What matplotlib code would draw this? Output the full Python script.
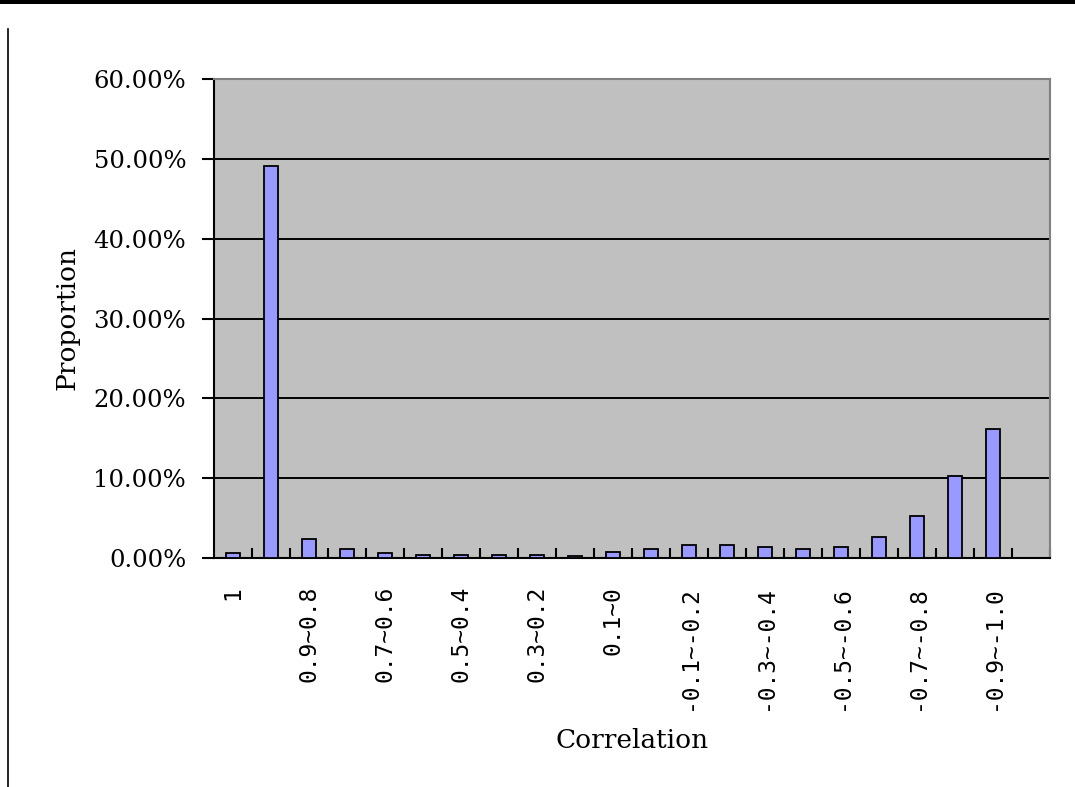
import matplotlib
matplotlib.use("Agg")
import matplotlib.pyplot as plt
from matplotlib.lines import Line2D
from matplotlib.patches import Rectangle
from matplotlib.ticker import FixedLocator, PercentFormatter

categories = ["1", "1~0.9", "0.9~0.8", "0.8~0.7", "0.7~0.6", "0.6~0.5", "0.5~0.4",
              "0.4~0.3", "0.3~0.2", "0.2~0.1", "0.1~0", "0~-0.1", "-0.1~-0.2",
              "-0.2~-0.3", "-0.3~-0.4", "-0.4~-0.5", "-0.5~-0.6", "-0.6~-0.7",
              "-0.7~-0.8", "-0.8~-0.9", "-0.9~-1.0"]
proportion = [0.63, 49.1, 2.4, 1.13, 0.66, 0.42, 0.42, 0.42, 0.42, 0.2, 0.7,
              1.1, 1.65, 1.65, 1.35, 1.1, 1.35, 2.6, 5.3, 10.3, 16.1]
y_ticks = [0, 10, 20, 30, 40, 50, 60]

W, H = 1075, 787
fig = plt.figure(figsize=(W / 100, H / 100), dpi=100)
fig.patch.set_facecolor("white")

# decorative frame lines of the original page
fig.add_artist(Rectangle((0, 1 - 4 / H), 1, 4 / H, transform=fig.transFigure,
                         facecolor="black", edgecolor="none"))
fig.add_artist(Line2D([7.5 / W, 7.5 / W], [0, 1 - 29 / H], transform=fig.transFigure,
                      color="black", linewidth=1.2))

left, right, top, bottom = 214, 1050, 79, 558
ax = fig.add_axes([left / W, 1 - bottom / H, (right - left) / W, (bottom - top) / H])
ax.set_facecolor("#C0C0C0")

x = list(range(len(categories)))
ax.bar(x, proportion, width=0.37, color="#9999FF", edgecolor="black", linewidth=1.3, zorder=3)

ax.set_xlim(-0.5, len(categories) + 0.5)
ax.set_ylim(0, 60)
ax.set_yticks(y_ticks)
ax.yaxis.set_major_formatter(PercentFormatter(decimals=2))
ax.grid(axis="y", color="black", linewidth=1.4, zorder=1)
ax.set_axisbelow(True)

major = list(range(0, len(categories), 2))
ax.set_xticks(major)
ax.set_xticklabels([categories[i] for i in major], rotation=90, va="top", ha="center",
                   family="DejaVu Sans Mono", fontsize=16.5)
ax.xaxis.set_minor_locator(FixedLocator([i + 0.5 for i in range(len(categories) + 1)]))
ax.tick_params(axis="x", which="major", length=0, pad=20)
ax.tick_params(axis="x", which="minor", direction="in", length=7, width=1.5, color="black")
ax.tick_params(axis="y", direction="out", length=9, width=1.5, pad=11)
for lab in ax.get_yticklabels():
    lab.set_family("DejaVu Serif")
    lab.set_fontsize(17.5)

for s in ["left", "bottom"]:
    ax.spines[s].set_color("black")
    ax.spines[s].set_linewidth(1.5)
for s in ["top", "right"]:
    ax.spines[s].set_color("#808080")
    ax.spines[s].set_linewidth(1.5)

ax.set_ylabel("Proportion", family="DejaVu Serif", fontsize=19, labelpad=10)
ax.set_xlabel("Correlation", family="DejaVu Serif", fontsize=19, labelpad=10)
ax.yaxis.set_label_coords((67 - left) / (right - left), 0.5)
ax.xaxis.set_label_coords((632 - left) / (right - left), -(740 - bottom) / (bottom - top))
ax.xaxis.label.set_va("center")
ax.yaxis.label.set_va("center")

fig.savefig("out.png", dpi=100)
